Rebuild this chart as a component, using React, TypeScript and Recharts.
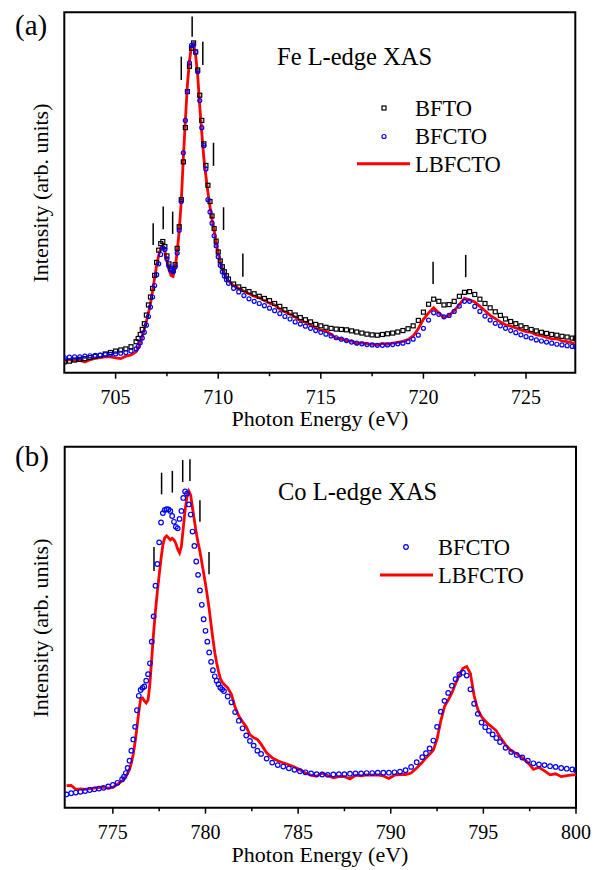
import React from 'react'
import { ComposedChart, Line, XAxis, YAxis, ReferenceLine, ReferenceArea } from 'recharts'

// ---- (a) Fe L-edge ----
const feEnergy = [
  702.5, 702.75, 703, 703.25, 703.5, 703.75, 704, 704.25, 704.5, 704.75, 705, 705.25, 705.5, 705.75, 706,
  706.1, 706.2, 706.3, 706.4, 706.5, 706.6, 706.7, 706.8, 706.9, 707,
  707.1, 707.2, 707.3, 707.4, 707.5, 707.6, 707.7, 707.8, 707.9, 708,
  708.1, 708.2, 708.3, 708.4, 708.5, 708.6, 708.7, 708.8, 708.9, 709,
  709.1, 709.2, 709.3, 709.4, 709.5, 709.6, 709.7, 709.8, 709.9, 710,
  710.1, 710.2, 710.3, 710.4, 710.5,
  710.75, 711, 711.25, 711.5, 711.75, 712, 712.25, 712.5, 712.75, 713,
  713.25, 713.5, 713.75, 714, 714.25, 714.5, 714.75, 715, 715.25, 715.5,
  715.75, 716, 716.25, 716.5, 716.75, 717, 717.25, 717.5, 717.75, 718,
  718.25, 718.5, 718.75, 719, 719.25, 719.5, 719.75, 720, 720.25, 720.5,
  720.75, 721, 721.25, 721.5, 721.75, 722, 722.25, 722.5, 722.75, 723,
  723.25, 723.5, 723.75, 724, 724.25, 724.5, 724.75, 725, 725.25, 725.5,
  725.75, 726, 726.25, 726.5, 726.75, 727, 727.25,
  727.4,
]
const feBFTO = [
  3.0, 3.2, 3.5, 3.7, 3.9, 4.2, 4.5, 4.8, 5.2, 5.6, 6.0, 6.3, 6.6, 7.2, 8.6,
  9.5, 10.6, 12.0, 13.6, 16.0, 18.8, 21.0, 23.4, 27.0, 30.6,
  34.0, 35.8, 36.4, 35.0, 32.4, 30.2, 28.8, 28.4, 30.0, 34.5,
  40.5, 48.0, 58.5, 68.0, 78.0, 85.0, 90.0, 91.5, 89.0, 84.0,
  77.0, 70.0, 63.5, 57.5, 52.0, 47.5, 43.5, 40.0, 36.5, 33.5,
  31.0, 29.4, 28.0, 26.9, 26.0,
  24.6, 23.8, 23.1, 22.5, 21.9, 21.2, 20.6, 20.0, 19.2, 18.4,
  17.5, 16.7, 16.0, 15.3, 14.7, 14.1, 13.4, 13.0, 12.6, 12.3,
  12.1, 12.0, 11.9, 11.6, 11.3, 11.0, 10.7, 10.5, 10.4, 10.6,
  10.8, 11.0, 11.3, 11.7, 12.2, 13.0, 14.5, 16.8, 19.0, 20.4,
  19.8, 18.8, 18.9, 19.8, 21.2, 22.3, 22.5, 21.7, 20.4, 19.2,
  18.0, 16.9, 15.9, 14.9, 14.2, 13.6, 13.0, 12.5, 12.0, 11.6,
  11.2, 10.9, 10.6, 10.4, 10.1, 9.9, 9.6,
  9.5,
]
const feBFCTO = [
  4.2, 4.3, 4.4, 4.4, 4.6, 4.7, 4.8, 4.9, 5.0, 5.1, 5.2, 5.4, 5.6, 6.0, 6.6,
  7.3, 8.3, 9.6, 11.2, 13.2, 15.6, 18.2, 21.0, 24.2, 27.2,
  30.2, 32.8, 34.6, 34.2, 31.6, 29.6, 28.4, 28.0, 29.4, 33.2,
  39.5, 47.5, 61.0, 70.0, 78.0, 86.0, 90.8, 91.0, 89.0, 83.5,
  75.5, 68.0, 63.0, 56.5, 48.0, 44.6, 41.5, 38.0, 35.2, 32.2,
  29.8, 28.0, 26.8, 25.8, 24.8,
  23.4, 22.4, 21.4, 20.5, 19.8, 19.2, 18.6, 17.9, 17.2, 16.4,
  15.6, 14.9, 14.1, 13.5, 12.9, 12.3, 11.7, 11.2, 10.7, 10.2,
  9.7, 9.3, 8.9, 8.5, 8.2, 8.0, 7.8, 7.7, 7.6, 7.6,
  7.7, 7.8, 8.0, 8.2, 8.6, 9.3, 10.4, 12.3, 14.6, 16.6,
  16.2, 15.5, 15.9, 17.0, 18.5, 19.8, 19.8, 18.4, 17.0, 15.7,
  14.6, 13.7, 13.0, 12.3, 11.7, 11.1, 10.5, 10.0, 9.6, 9.1,
  8.8, 8.5, 8.2, 7.9, 7.7, 7.5, 7.3,
  7.2,
]
const feLBFCTO = [
  3.5, 3.6, 3.4, 3.5, 3.0, 3.6, 4.0, 4.2, 4.4, 4.4, 4.1, 3.9, 4.6, 4.9, 5.8,
  6.8, 8.3, 10.0, 12.0, 14.2, 16.6, 19.2, 22.6, 26.2, 29.8,
  32.6, 34.6, 35.4, 33.6, 30.8, 28.6, 27.0, 26.7, 29.0, 33.5,
  39.5, 47.5, 59.5, 70.0, 80.0, 86.5, 90.8, 91.3, 88.0, 82.5,
  74.0, 66.5, 59.5, 54.5, 50.0, 46.0, 42.5, 39.5, 36.0, 33.0,
  30.6, 29.0, 27.6, 26.4, 25.4,
  24.2, 23.4, 22.6, 22.0, 21.2, 20.8, 20.0, 19.3, 18.8, 17.6,
  16.9, 16.2, 15.5, 14.4, 14.0, 13.2, 12.4, 11.8, 11.6, 10.6,
  9.6, 9.4, 8.9, 8.8, 8.1, 8.3, 8.0, 7.9, 7.7, 8.1,
  7.9, 8.2, 8.4, 8.7, 9.2, 10.2, 12.2, 14.8, 16.6, 18.0,
  16.6, 15.4, 15.9, 17.2, 18.9, 20.6, 20.2, 19.6, 18.4, 17.2,
  15.9, 15.0, 14.1, 13.3, 12.9, 12.4, 11.9, 11.4, 11.2, 10.5,
  10.3, 9.8, 9.4, 9.4, 8.8, 8.6, 8.3,
  8.2,
]
const feTicks = [705, 707.5, 710, 712.5, 715, 717.5, 720, 722.5, 725]
// vertical feature marks: energy, bottom, top
const feMarkE = [706.83, 707.32, 707.78, 708.2, 708.73, 709.25, 709.77, 710.26, 711.2, 720.47, 722.06]
const feMarkLo = [35.4, 39.8, 38.5, 81.2, 93.2, 85.4, 57.4, 39.6, 26.6, 24.6, 26.5]
const feMarkHi = [41.5, 46.1, 44.7, 87.7, 98.8, 91.8, 63.8, 45.9, 33.1, 30.8, 32.7]

// ---- (b) Co L-edge ----
const coEnergy = [
  772.5, 772.75, 773, 773.25, 773.5, 773.75, 774, 774.25, 774.5, 774.75, 775, 775.25, 775.5,
  775.6, 775.7, 775.8, 775.9, 776, 776.1, 776.2, 776.3, 776.4, 776.5,
  776.6, 776.7, 776.8, 776.9, 777, 777.1, 777.2, 777.3, 777.4, 777.5,
  777.6, 777.7, 777.8, 777.9, 778, 778.1, 778.2, 778.3, 778.4, 778.5,
  778.6, 778.7, 778.8, 778.9, 779, 779.1, 779.2, 779.3, 779.4, 779.5,
  779.6, 779.7, 779.8, 779.9, 780, 780.1, 780.2, 780.3, 780.4, 780.5,
  780.6, 780.7, 780.8, 780.9, 781,
  781.2, 781.4, 781.6, 781.8, 782, 782.2, 782.4, 782.6, 782.8, 783,
  783.3, 783.6, 783.9, 784.2, 784.5, 784.8, 785.1, 785.4, 785.7, 786,
  786.3, 786.6, 786.9, 787.2, 787.5, 787.8, 788.1, 788.4, 788.7, 789,
  789.3, 789.6, 789.9, 790.2, 790.5, 790.8, 791.1, 791.4, 791.7,
  791.9, 792.1, 792.3, 792.5, 792.7, 792.9, 793.1, 793.3, 793.5, 793.7,
  793.9, 794.1, 794.3, 794.5, 794.7, 794.9, 795.1, 795.3, 795.5, 795.7, 795.9,
  796.2, 796.5, 796.8, 797.1, 797.4, 797.7, 798, 798.3, 798.6, 798.9, 799.2, 799.5, 799.8,
  800,
]
const coBFCTO = [
  3.7, 4.0, 4.2, 4.4, 4.6, 4.9, 5.1, 5.3, 5.5, 5.9, 6.3, 6.9, 7.9,
  8.6, 9.6, 11.0, 13.0, 15.8, 18.9, 22.4, 27.0, 31.0, 32.6,
  33.2, 33.6, 35.2, 37.0, 40.0, 46.0, 53.0, 61.5, 67.5, 73.5,
  79.0, 81.6, 82.5, 82.7, 82.6, 82.2, 80.8, 79.2, 77.8, 77.4,
  80.0, 82.2, 85.8, 87.6, 87.0, 84.0, 81.2, 76.5, 72.5, 68.2,
  64.5, 60.2, 56.2, 52.2, 49.0, 46.0, 43.0, 40.4, 38.1, 36.4,
  35.2, 34.2, 33.3, 32.8, 32.3,
  30.8, 29.2, 26.5, 24.1, 22.0, 20.0, 18.5, 17.2, 15.8, 14.9,
  13.6, 12.5, 11.8, 11.4, 10.9, 10.5, 10.1, 9.8, 9.5, 9.3,
  9.2, 9.1, 9.2, 9.3, 9.3, 9.4, 9.5, 9.5, 9.6, 9.6,
  9.7, 9.7, 9.7, 9.8, 10.0, 10.4, 11.3, 12.6, 14.0,
  15.1, 16.4, 18.6, 22.4, 26.6, 29.6, 31.8, 33.8, 35.6, 36.9,
  37.4, 36.6, 32.8, 28.8, 26.0, 23.6, 22.3, 21.3, 20.3, 19.3, 18.2,
  16.6, 15.4, 14.6, 13.9, 13.0, 12.3, 12.0, 11.8, 11.5, 11.3, 11.0, 10.8, 10.6,
  10.4,
]
const coLBFCTO = [
  6.1, 6.2, 5.1, 5.2, 5.1, 5.3, 5.4, 5.6, 5.7, 5.4, 5.6, 6.5, 7.4,
  7.9, 8.6, 9.6, 10.6, 12.4, 14.8, 18.2, 22.2, 26.6, 30.2,
  30.4, 29.6, 29.0, 29.8, 34.4, 41.5, 48.5, 54.5, 59.8, 64.5,
  69.0, 72.8, 74.8, 75.3, 74.8, 74.2, 74.6, 74.2, 73.2, 71.6,
  70.6, 72.4, 77.5, 82.5, 86.2, 87.7, 86.6, 83.0, 79.6, 76.2,
  73.4, 71.0, 68.0, 65.0, 62.0, 58.6, 55.0, 50.8, 46.8, 43.0,
  40.2, 37.8, 35.8, 34.8, 34.2,
  33.2, 31.4, 27.8, 25.4, 23.8, 22.4, 20.2, 19.4, 18.9, 17.6,
  15.2, 13.8, 13.0, 12.4, 11.9, 11.3, 10.5, 9.6, 9.0, 8.7,
  9.6, 8.9, 8.3, 8.6, 8.6, 8.0, 9.0, 8.8, 9.1, 9.0,
  9.1, 8.8, 8.1, 9.0, 9.2, 9.2, 9.6, 11.0, 12.6,
  13.8, 14.8, 16.0, 19.0, 24.0, 28.0, 29.8, 31.8, 34.4, 36.8,
  38.6, 39.1, 37.2, 31.0, 27.2, 25.2, 24.0, 23.0, 22.2, 21.3, 19.6,
  17.4, 15.8, 14.9, 13.8, 12.5, 10.6, 11.2, 10.2, 9.1, 9.4, 8.6, 8.9, 9.1,
  9.1,
]
const coTicks = [775, 777.5, 780, 782.5, 785, 787.5, 790, 792.5, 795, 797.5, 800]
const coMarkE = [777.22, 777.63, 778.21, 778.77, 779.16, 779.7, 780.19]
const coMarkLo = [65.6, 86.8, 87.3, 90.2, 90.5, 79.2, 64.7]
const coMarkHi = [72.2, 92.8, 93.3, 96.3, 96.5, 85.2, 70.8]

const feRows = feEnergy.map((e, i) => ({ e, bfto: feBFTO[i], bfcto: feBFCTO[i], lbfcto: feLBFCTO[i] }))
const coRows = coEnergy.map((e, i) => ({ e, bfcto: coBFCTO[i], lbfcto: coLBFCTO[i] }))

const FONT = 'Liberation Serif'
const RED = '#ff0000'
const BLUE = '#0000ff'

// custom tick: long tick + label on multiples of 5, short tick otherwise
function EnergyTick(props: any) {
  const { x, y, payload } = props
  const v = payload.value
  const major = Math.abs(v % 5) < 1e-6
  return (
    <g>
      <line x1={x} x2={x} y1={y} y2={y + (major ? 6 : 3.5)} stroke="#000" strokeWidth={1.5} />
      {major && (
        <text x={x} y={y + 31.3} textAnchor="middle" fontSize={20} style={{ fontFamily: FONT }} fill="#000">
          {v}
        </text>
      )}
    </g>
  )
}

const squareDot = (p: any) =>
  p.cy == null ? <g key={`sq${p.index}`} /> : (
    <rect key={`sq${p.index}`} x={p.cx - 2} y={p.cy - 2} width={4} height={4} fill="none" stroke="#000" strokeWidth={1.2} />
  )
const circleDot = (r: number) => (p: any) =>
  p.cy == null ? <g key={`c${p.index}`} /> : (
    <circle key={`c${p.index}`} cx={p.cx} cy={p.cy} r={r} fill="none" stroke={BLUE} strokeWidth={1.2} />
  )

function App() {
  return (
    <div style={{ position: 'absolute', left: 0, top: 0, width: 603, height: 870, background: '#fff', fontFamily: FONT }}>
      <div style={{ position: 'absolute', left: 0, top: 0 }}>
        <ComposedChart width={603} height={435} data={feRows} margin={{ top: 12.3, right: 27.7, bottom: 22.3, left: 64.3 }}>
          <XAxis dataKey="e" type="number" domain={[702.5, 727.4]} ticks={feTicks} interval={0} tick={<EnergyTick />}
            tickLine={false} axisLine={false} tickSize={0} tickMargin={0} height={40} allowDataOverflow />
          <YAxis hide type="number" domain={[0, 100]} width={0} allowDataOverflow />
          <Line dataKey="bfto" stroke="transparent" strokeWidth={0} dot={squareDot} activeDot={false} isAnimationActive={false} />
          <Line dataKey="bfcto" stroke="transparent" strokeWidth={0} dot={circleDot(2)} activeDot={false} isAnimationActive={false} />
          <Line dataKey="lbfcto" type="linear" stroke={RED} strokeWidth={2.8} dot={false} activeDot={false} isAnimationActive={false} />
          {feMarkE.map((e, i) => (
            <ReferenceLine key={`fm${i}`} segment={[{ x: e, y: feMarkLo[i] }, { x: e, y: feMarkHi[i] }]} stroke="#000" strokeWidth={1.5} />
          ))}
          <ReferenceArea x1={702.5} x2={727.4} y1={0} y2={100} fill="none" stroke="#000" strokeWidth={2} />
        </ComposedChart>
      </div>
      <div style={{ position: 'absolute', left: 0, top: 435 }}>
        <ComposedChart width={603} height={435} data={coRows} margin={{ top: 11.7, right: 27, bottom: 22.3, left: 64.7 }}>
          <XAxis dataKey="e" type="number" domain={[772.4, 800]} ticks={coTicks} interval={0} tick={<EnergyTick />}
            tickLine={false} axisLine={false} tickSize={0} tickMargin={0} height={40} allowDataOverflow />
          <YAxis hide type="number" domain={[0, 100]} width={0} allowDataOverflow />
          <Line dataKey="bfcto" stroke="transparent" strokeWidth={0} dot={circleDot(2.3)} activeDot={false} isAnimationActive={false} />
          <Line dataKey="lbfcto" type="linear" stroke={RED} strokeWidth={2.8} dot={false} activeDot={false} isAnimationActive={false} />
          {coMarkE.map((e, i) => (
            <ReferenceLine key={`cm${i}`} segment={[{ x: e, y: coMarkLo[i] }, { x: e, y: coMarkHi[i] }]} stroke="#000" strokeWidth={1.5} />
          ))}
          <ReferenceArea x1={772.4} x2={800} y1={0} y2={100} fill="none" stroke="#000" strokeWidth={2} />
        </ComposedChart>
      </div>

      {/* labels, legends */}
      <svg width={603} height={870} style={{ position: 'absolute', left: 0, top: 0, pointerEvents: 'none', fontFamily: FONT }} fill="#000">
        <text x={15} y={35} fontSize={29}>(a)</text>
        <text x={15} y={466} fontSize={29}>(b)</text>

        <text x={277} y={65} fontSize={24.5}>Fe L-edge XAS</text>
        <text x={278} y={500} fontSize={24.5}>Co L-edge XAS</text>

        <rect x={382} y={106} width={4} height={4} fill="none" stroke="#000" strokeWidth={1.2} />
        <text x={415} y={116} fontSize={22.5}>BFTO</text>
        <circle cx={384} cy={136.5} r={2} fill="none" stroke={BLUE} strokeWidth={1.2} />
        <text x={415} y={144} fontSize={22.5}>BFCTO</text>
        <line x1={357} x2={410} y1={163.7} y2={163.7} stroke={RED} strokeWidth={3} />
        <text x={415} y={172} fontSize={22.5}>LBFCTO</text>

        <circle cx={406} cy={547} r={2.3} fill="none" stroke={BLUE} strokeWidth={1.2} />
        <text x={438} y={555} fontSize={22.5}>BFCTO</text>
        <line x1={380} x2={433} y1={575} y2={575} stroke={RED} strokeWidth={3} />
        <text x={438} y={583} fontSize={22.5}>LBFCTO</text>

        <text x={320} y={426.3} fontSize={22} textAnchor="middle">Photon Energy (eV)</text>
        <text x={320} y={862.3} fontSize={22} textAnchor="middle">Photon Energy (eV)</text>

        <text transform="translate(48,193) rotate(-90)" fontSize={22} textAnchor="middle">Intensity (arb. units)</text>
        <text transform="translate(48,628) rotate(-90)" fontSize={22} textAnchor="middle">Intensity (arb. units)</text>
      </svg>
    </div>
  )
}

export default App
